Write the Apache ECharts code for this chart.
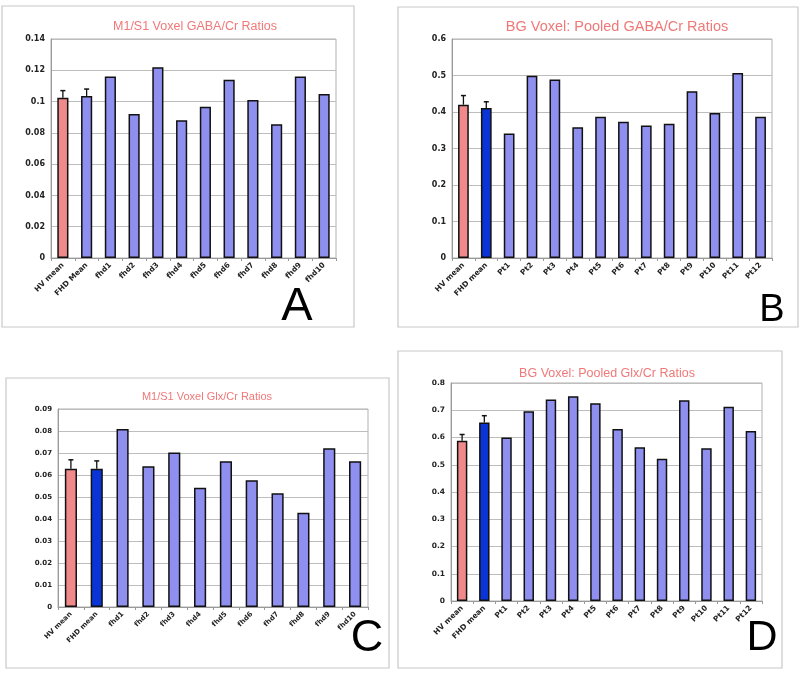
<!DOCTYPE html>
<html>
<head>
<meta charset="UTF-8">
<title>GABA/Cr and Glx/Cr Ratios</title>
<script src="https://cdn.jsdelivr.net/npm/echarts@6/dist/echarts.min.js"></script>
<style>
  html, body { margin: 0; padding: 0; background: #fff; }
  #chart { width: 800px; height: 675px; }
</style>
</head>
<body>
<div id="chart"></div>
<script>
// panel A: M1/S1 GABA/Cr
const catsA = ['HV mean', 'FHD Mean', 'fhd1', 'fhd2', 'fhd3', 'fhd4', 'fhd5', 'fhd6', 'fhd7', 'fhd8', 'fhd9', 'fhd10'];
const valsA = [0.1025, 0.1036, 0.116, 0.092, 0.122, 0.088, 0.0967, 0.114, 0.101, 0.0855, 0.116, 0.1048];
const errA = [0.0045, 0.0044];

// panel B: BG GABA/Cr
const catsB = ['HV mean', 'FHD mean', 'Pt1', 'Pt2', 'Pt3', 'Pt4', 'Pt5', 'Pt6', 'Pt7', 'Pt8', 'Pt9', 'Pt10', 'Pt11', 'Pt12'];
const valsB = [0.42, 0.411, 0.341, 0.4995, 0.489, 0.358, 0.387, 0.373, 0.363, 0.368, 0.457, 0.397, 0.507, 0.387];
const errB = [0.025, 0.017];

// panel C: M1/S1 Glx/Cr
const catsC = ['HV mean', 'FHD mean', 'fhd1', 'fhd2', 'fhd3', 'fhd4', 'fhd5', 'fhd6', 'fhd7', 'fhd8', 'fhd9', 'fhd10'];
const valsC = [0.0628, 0.0628, 0.0809, 0.064, 0.0702, 0.0542, 0.0663, 0.0576, 0.0517, 0.0428, 0.0722, 0.0663];
const errC = [0.0041, 0.0036];

// panel D: BG Glx/Cr
const catsD = ['HV mean', 'FHD mean', 'Pt1', 'Pt2', 'Pt3', 'Pt4', 'Pt5', 'Pt6', 'Pt7', 'Pt8', 'Pt9', 'Pt10', 'Pt11', 'Pt12'];
const valsD = [0.588, 0.655, 0.600, 0.696, 0.739, 0.751, 0.726, 0.631, 0.564, 0.522, 0.737, 0.561, 0.713, 0.624];
const errD = [0.023, 0.025];

const titles = ['M1/S1 Voxel GABA/Cr Ratios', 'BG Voxel: Pooled GABA/Cr Ratios', 'M1/S1 Voxel Glx/Cr Ratios', 'BG Voxel: Pooled Glx/Cr Ratios'];
const letters = ['A', 'B', 'C', 'D'];
const yMax = [0.14, 0.6, 0.09, 0.8];
const yStep = [0.02, 0.1, 0.01, 0.1];

const PINK = '#f08a8a';
const LAV = '#8f8ff0';
const BLUE = '#0b34d6';

const panels = [
  { cats: catsA, vals: valsA, err: errA, second: LAV,
    grid: { left: 51, top: 39, width: 285, height: 219 },
    box: [2, 6, 352, 321], title: [190, 23, 12.5], letter: [297, 307, 47], yfs: 8, xfs: 7.5 },
  { cats: catsB, vals: valsB, err: errB, second: BLUE,
    grid: { left: 452, top: 39, width: 320, height: 219 },
    box: [398, 7, 400, 320], title: [612, 23, 14.5], letter: [772, 311, 38], yfs: 8, xfs: 7.5 },
  { cats: catsC, vals: valsC, err: errC, second: BLUE,
    grid: { left: 58, top: 409, width: 310, height: 198 },
    box: [6, 378, 383, 290], title: [202, 393, 11], letter: [367, 639, 45], yfs: 7, xfs: 7 },
  { cats: catsD, vals: valsD, err: errD, second: BLUE,
    grid: { left: 451, top: 383, width: 311, height: 218 },
    box: [398, 351, 384, 317], title: [602, 370, 12.5], letter: [762, 638, 43], yfs: 7.5, xfs: 7.5 }
];

const chart = echarts.init(document.getElementById('chart'));

const option = {
  backgroundColor: '#fff',
  animation: false,
  title: [], grid: [], xAxis: [], yAxis: [], series: [], graphic: []
};

panels.forEach((p, i) => {
  option.graphic.push({
    type: 'rect', z: -1,
    shape: { x: p.box[0], y: p.box[1], width: p.box[2], height: p.box[3] },
    style: { fill: '#fff', stroke: '#c8c8c8', lineWidth: 1.2 }
  });
  option.graphic.push({
    type: 'text', z: 100,
    style: {
      text: letters[i], x: p.letter[0], y: p.letter[1],
      align: 'center', verticalAlign: 'middle',
      font: p.letter[2] + 'px "Liberation Sans", Arial, sans-serif', fill: '#000'
    }
  });
  option.title.push({
    text: titles[i], left: p.title[0], top: p.title[1] - p.title[2] * 0.62,
    textAlign: 'center',
    textStyle: { color: '#f07878', fontSize: p.title[2], fontWeight: 'normal', fontFamily: '"Liberation Sans", Arial, sans-serif' }
  });
  option.grid.push(Object.assign({ show: true, borderColor: '#b0b0b0', borderWidth: 1, backgroundColor: '#fff' }, p.grid));
  option.xAxis.push({
    type: 'category', gridIndex: i, data: p.cats,
    axisLine: { lineStyle: { color: '#999' } },
    axisTick: { show: true, alignWithLabel: false, length: 3, lineStyle: { color: '#999' } },
    axisLabel: { interval: 0, rotate: 45, fontSize: p.xfs, fontWeight: 'bold', color: '#222', margin: 6,
      fontFamily: '"DejaVu Sans", Verdana, sans-serif' }
  });
  option.yAxis.push({
    type: 'value', gridIndex: i, min: 0, max: yMax[i], interval: yStep[i],
    axisLine: { show: true, lineStyle: { color: '#999' } },
    axisTick: { show: false },
    splitLine: { lineStyle: { color: '#bdbdbd', width: 1 } },
    axisLabel: { fontSize: p.yfs, fontWeight: 'bold', color: '#222', margin: 6,
      fontFamily: '"DejaVu Sans", Verdana, sans-serif',
      formatter: v => String(+v.toFixed(3)) }
  });
  option.series.push({
    type: 'bar', xAxisIndex: i, yAxisIndex: i, barWidth: '47%',
    data: p.vals.map((v, k) => ({
      value: v,
      itemStyle: { color: k === 0 ? PINK : (k === 1 ? p.second : LAV) }
    })),
    itemStyle: { borderColor: '#111', borderWidth: 1.5 }
  });
  option.series.push({
    type: 'custom', xAxisIndex: i, yAxisIndex: i, z: 5,
    data: p.err.map((e, k) => [k, p.vals[k], p.vals[k] + e]),
    renderItem: (params, api) => {
      const base = api.coord([api.value(0), api.value(1)]);
      const top = api.coord([api.value(0), api.value(2)]);
      return {
        type: 'group',
        children: [
          { type: 'line', shape: { x1: base[0], y1: base[1], x2: top[0], y2: top[1] },
            style: { stroke: '#111', lineWidth: 1.3 } },
          { type: 'line', shape: { x1: top[0] - 2.5, y1: top[1], x2: top[0] + 2.5, y2: top[1] },
            style: { stroke: '#111', lineWidth: 1.5 } }
        ]
      };
    }
  });
});

chart.setOption(option);
</script>
</body>
</html>
